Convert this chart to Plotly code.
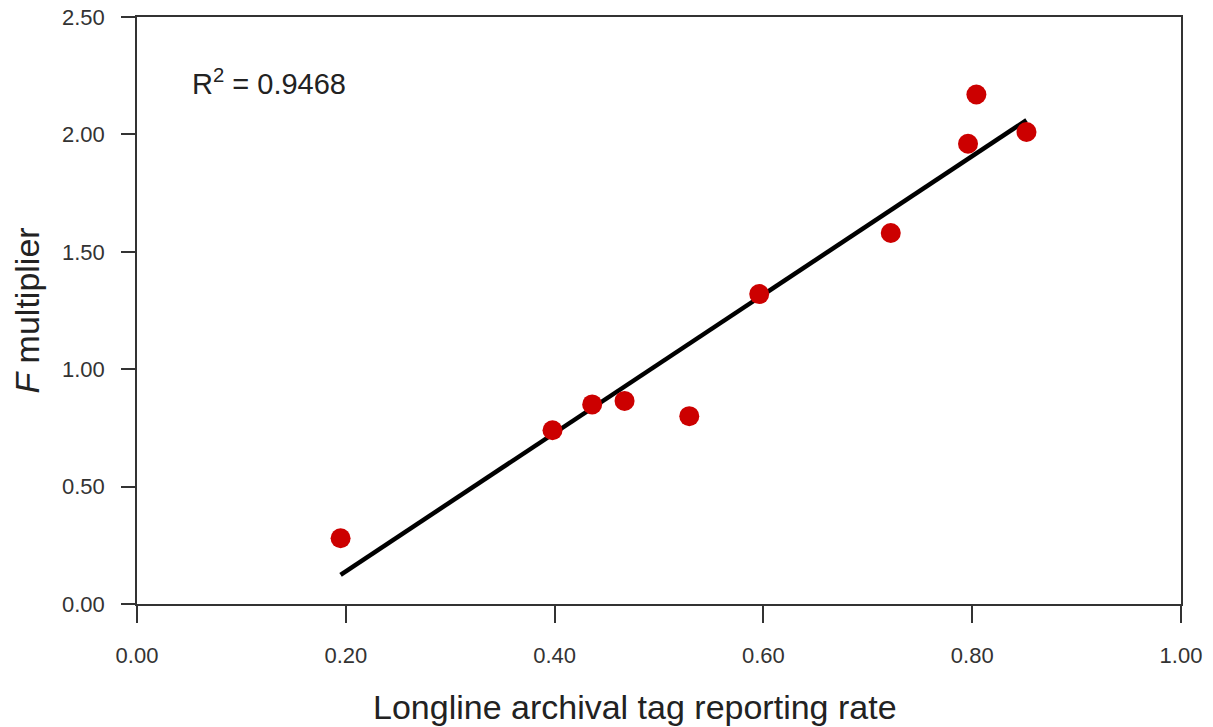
import numpy as np
import plotly.graph_objects as go

# Data
reporting_rate = [0.195, 0.398, 0.436, 0.467, 0.529, 0.596, 0.722, 0.796, 0.804, 0.852]
f_multiplier = [0.28, 0.74, 0.85, 0.865, 0.80, 1.32, 1.58, 1.96, 2.17, 2.01]
x_ticks = [0.0, 0.2, 0.4, 0.6, 0.8, 1.0]
y_ticks = [0.0, 0.5, 1.0, 1.5, 2.0, 2.5]
r2_text = "R<sup>2</sup> = 0.9468"
x_title = "Longline archival tag reporting rate"
y_title = "<i>F</i> multiplier"

# Least-squares fit line across the data range
slope, intercept = np.polyfit(reporting_rate, f_multiplier, 1)
fit_x = [min(reporting_rate), max(reporting_rate)]
fit_y = [slope * v + intercept for v in fit_x]

FONT = "Liberation Sans, Arial, sans-serif"

fig = go.Figure()
fig.add_trace(go.Scatter(x=fit_x, y=fit_y, mode="lines",
                         line=dict(color="black", width=4.5), showlegend=False))
fig.add_trace(go.Scatter(x=reporting_rate, y=f_multiplier, mode="markers",
                         marker=dict(color="#cc0000", size=20), showlegend=False))

fig.add_annotation(x=0.051, y=2.222, xref="x", yref="y", text=r2_text,
                   showarrow=False, xanchor="left", yanchor="middle",
                   font=dict(family=FONT, size=29, color="#222222"))

plot_h = 727 - 17 - 123
fig.add_annotation(x=0.477, y=(727 - 123 - 707) / plot_h, xref="paper", yref="paper",
                   text=x_title, showarrow=False, xanchor="center", yanchor="middle",
                   font=dict(family=FONT, size=34, color="#222222"))

fig.update_layout(
    width=1213, height=727,
    margin=dict(l=137, r=32, t=17, b=123),
    plot_bgcolor="white", paper_bgcolor="white",
    font=dict(family=FONT, color="#333333"),
)

fig.update_xaxes(
    range=[0, 1], tickvals=x_ticks, tickformat=".2f", automargin=False,
    showgrid=False, zeroline=False,
    showline=True, mirror=True, linecolor="#333333", linewidth=1.5,
    ticks="outside", ticklen=17, tickwidth=1.5, tickcolor="#333333",
    ticklabelstandoff=14,
    tickfont=dict(size=22, color="#333333"),
)
fig.update_yaxes(
    range=[0, 2.5], tickvals=y_ticks, tickformat=".2f", automargin=False,
    showgrid=False, zeroline=False,
    showline=True, mirror=True, linecolor="#333333", linewidth=1.5,
    ticks="outside", ticklen=14, tickwidth=1.5, tickcolor="#333333",
    ticklabelstandoff=12,
    tickfont=dict(size=22, color="#333333"),
    title=dict(text=y_title,
               font=dict(size=34, color="#222222"), standoff=12),
)

fig.write_html("out.html")
